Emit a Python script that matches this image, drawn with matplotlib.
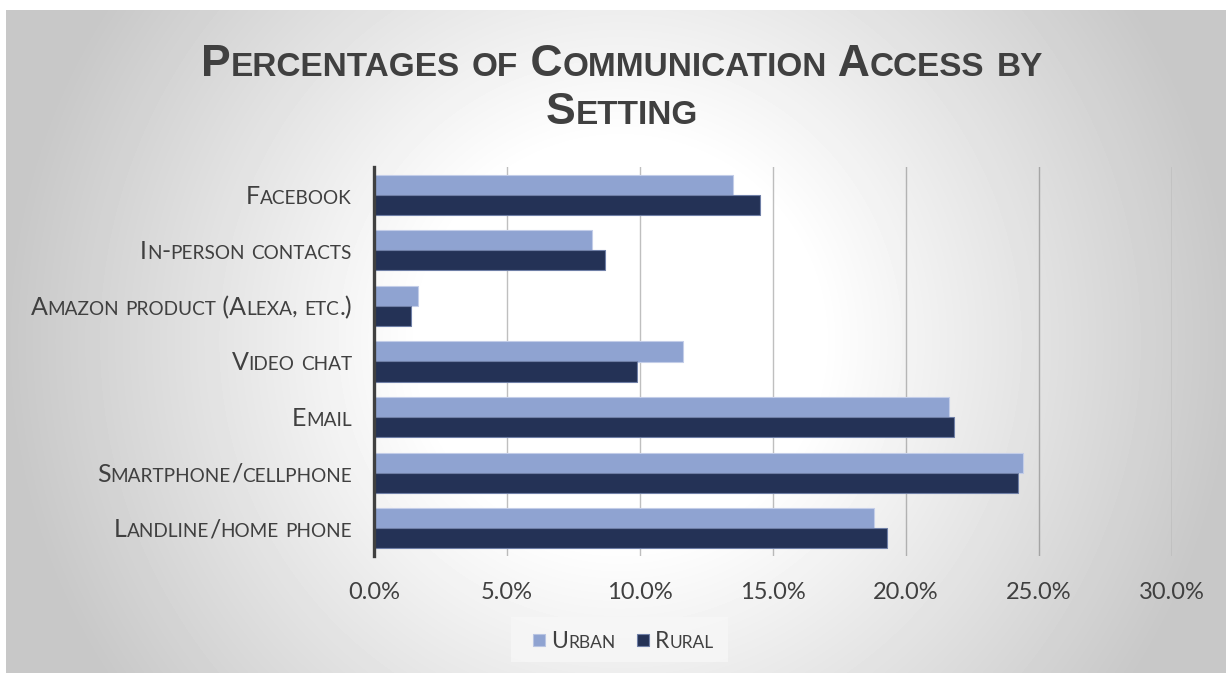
import matplotlib.pyplot as plt
import numpy as np
from matplotlib.patches import Rectangle
from matplotlib.transforms import IdentityTransform

# data (percent), listed top to bottom
categories = ['Facebook', 'In-person contacts', 'Amazon product (Alexa, etc.)',
              'Video chat', 'Email', 'Smartphone/cellphone', 'Landline/home phone']
urban = [13.5, 8.2, 1.65, 11.6, 21.6, 24.4, 18.8]
rural = [14.5, 8.7, 1.4, 9.9, 21.8, 24.2, 19.3]
series_names = ['Urban', 'Rural']
xticks = [0, 5, 10, 15, 20, 25, 30]
title_lines = ['Percentages of Communication Access by', 'Setting']

W, H = 1226, 673
TEXT = '#404040'
URBAN_C = '#8fa3d1'
RURAL_C = '#243256'
LABEL_FONT = ['Lato', 'DejaVu Sans']
TITLE_FONT = ['Liberation Sans', 'DejaVu Sans']

fig = plt.figure(figsize=(W / 100, H / 100), dpi=100)
fig.patch.set_facecolor('white')

# radial grey-to-white backdrop
bg = fig.add_axes([6 / W, 0, 1 - 6 / W, (H - 10) / H])
yy, xx = np.mgrid[0:663, 0:1220]
d = np.hypot(xx - 614, yy - 331)
shade = 1 - 0.215 * np.clip((d - 200) / 410, 0, 1)
bg.imshow(shade, cmap='gray', vmin=0, vmax=1, aspect='auto', interpolation='bilinear')
bg.axis('off')

# bar chart
ax = fig.add_axes([374 / W, 1 - 556 / H, (1172 - 374) / W, (556 - 167) / H])
ax.set_facecolor('none')
pos = np.arange(len(categories))[::-1]
h = 0.36
ax.barh(pos + h / 2, urban, height=h, color=URBAN_C, edgecolor='#c3cde8', linewidth=0.8, zorder=3)
ax.barh(pos - h / 2, rural, height=h, color=RURAL_C, edgecolor='#6f7fa6', linewidth=0.8, zorder=3)
ax.set_xlim(0, 30)
ax.set_ylim(-0.5, len(categories) - 0.5)
ax.set_xticks(xticks)
ax.set_xticklabels([f'{v:.1f}%' for v in xticks], color=TEXT, fontsize=17, family=LABEL_FONT)
ax.set_yticks(pos)
ax.set_yticklabels([])
ax.tick_params(length=0, axis='both')
ax.tick_params(axis='x', pad=19)
ax.grid(axis='x', color='black', alpha=0.25, linewidth=1, zorder=0)
for s in ['top', 'right', 'bottom']:
    ax.spines[s].set_visible(False)
ax.spines['left'].set_color(TEXT)
ax.spines['left'].set_linewidth(2.4)
ax.spines['left'].set_zorder(4)

renderer = fig.canvas.get_renderer()


def text_width(s, size, **kw):
    t = fig.text(0, 0, '|' + s + '|', fontsize=size, **kw)
    w = t.get_window_extent(renderer).width
    t.set_text('||')
    w -= t.get_window_extent(renderer).width
    t.remove()
    return w


def small_caps(x, y, s, size, ha='left', ratio=0.76, **kw):
    # lowercase letters become reduced capitals; x, y in pixels, y is the baseline
    runs = []
    for ch in s:
        low = ch.islower()
        if runs and runs[-1][1] == low:
            runs[-1][0] += ch
        else:
            runs.append([ch, low])
    sizes = [size * ratio if low else size for _, low in runs]
    widths = [text_width(r.upper(), fs, **kw) for (r, _), fs in zip(runs, sizes)]
    total = sum(widths)
    if ha == 'center':
        x -= total / 2
    elif ha == 'right':
        x -= total
    for (r, _), fs, w in zip(runs, sizes, widths):
        fig.text(x, y, r.upper(), fontsize=fs, va='baseline', ha='left',
                 transform=IdentityTransform(), **kw)
        x += w


# title
for line, base in zip(title_lines, [76, 124]):
    small_caps(622, H - base, line, 32, ha='center', ratio=0.75,
               family=TITLE_FONT, weight='bold', color=TEXT)

# category labels
label_size = 18
cap = label_size * 100 / 72 * 0.72
for name, p in zip(categories, pos):
    yc = ax.transData.transform((0, p))[1]
    small_caps(352, yc - cap / 2, name, label_size, ha='right', family=LABEL_FONT, color=TEXT)

# legend
fig.add_artist(Rectangle((511, H - 662), 217, 45, transform=IdentityTransform(),
                         facecolor='#f7f7f7', edgecolor='none', alpha=0.8))
for name, c, kx in zip(series_names, [URBAN_C, RURAL_C], [533, 637]):
    fig.add_artist(Rectangle((kx, H - 646), 12, 12, transform=IdentityTransform(),
                             facecolor=c, edgecolor='#b8c4e2' if c == URBAN_C else '#6f7fa6', lw=0.8))
    small_caps(kx + 18, H - 648, name, 16.5, family=LABEL_FONT, color=TEXT)

fig.savefig('out.png', dpi=100)
